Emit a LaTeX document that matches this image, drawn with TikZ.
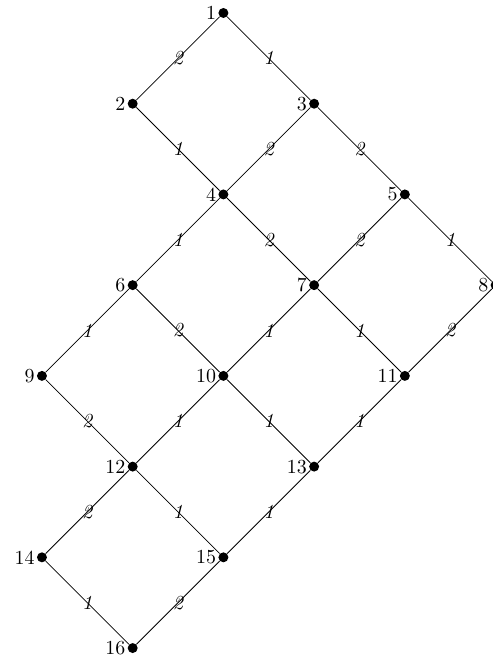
\documentclass[tikz,border=0pt]{standalone}
\usepackage{tikz}
\usetikzlibrary{positioning}

\begin{document}
\begin{tikzpicture}[on grid, node distance=1.6cm and 1.6cm,
    dot/.style={circle, fill, inner sep=0pt, minimum size=5pt},
    every label/.style={inner sep=0.8pt},
    wt/.style={midway, font=\itshape}]
    \useasboundingbox (-3.940,0.229) rectangle (4.737,-11.446);
    \node[dot, label=left:1] (v1) at (0,0) {};
    \node[dot, label=left:2, below left=of v1] (v2) {};
    \node[dot, label=left:3, below right=of v1] (v3) {};
    \node[dot, label=left:4, below right=of v2] (v4) {};
    \node[dot, label=left:5, below right=of v3] (v5) {};
    \node[dot, label=left:6, below left=of v4] (v6) {};
    \node[dot, label=left:7, below right=of v4] (v7) {};
    \node[dot, label=left:8, below right=of v5] (v8) {};
    \node[dot, label=left:9, below left=of v6] (v9) {};
    \node[dot, label=left:10, below right=of v6] (v10) {};
    \node[dot, label=left:11, below right=of v7] (v11) {};
    \node[dot, label=left:12, below left=of v10] (v12) {};
    \node[dot, label=left:13, below right=of v10] (v13) {};
    \node[dot, label=left:14, below left=of v12] (v14) {};
    \node[dot, label=left:15, below right=of v12] (v15) {};
    \node[dot, label=left:16, below left=of v15] (v16) {};

    \draw (v1) -- node[wt] {2} (v2);
    \draw (v1) -- node[wt] {1} (v3);
    \draw (v2) -- node[wt] {1} (v4);
    \draw (v3) -- node[wt] {2} (v4);
    \draw (v3) -- node[wt] {2} (v5);
    \draw (v4) -- node[wt] {1} (v6);
    \draw (v4) -- node[wt] {2} (v7);
    \draw (v5) -- node[wt] {2} (v7);
    \draw (v5) -- node[wt] {1} (v8);
    \draw (v6) -- node[wt] {1} (v9);
    \draw (v6) -- node[wt] {2} (v10);
    \draw (v7) -- node[wt] {1} (v10);
    \draw (v7) -- node[wt] {1} (v11);
    \draw (v8) -- node[wt] {2} (v11);
    \draw (v9) -- node[wt] {2} (v12);
    \draw (v10) -- node[wt] {1} (v12);
    \draw (v10) -- node[wt] {1} (v13);
    \draw (v11) -- node[wt] {1} (v13);
    \draw (v12) -- node[wt] {2} (v14);
    \draw (v12) -- node[wt] {1} (v15);
    \draw (v13) -- node[wt] {1} (v15);
    \draw (v14) -- node[wt] {1} (v16);
    \draw (v15) -- node[wt] {2} (v16);
\end{tikzpicture}
\end{document}
